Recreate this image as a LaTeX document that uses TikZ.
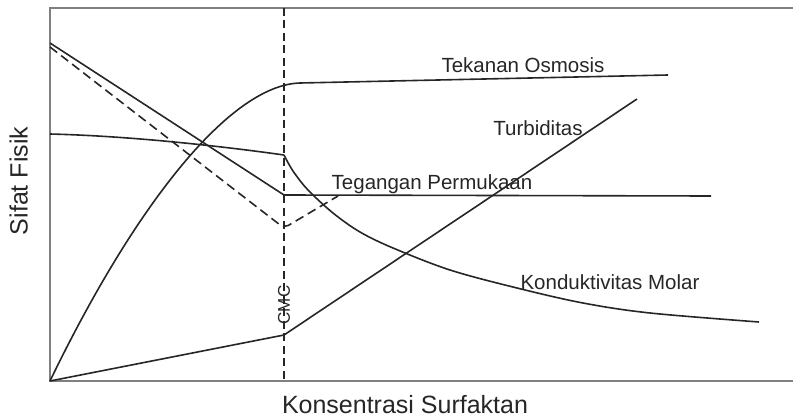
\documentclass[tikz,border=0pt]{standalone}
\usepackage{fontspec}
\setmainfont{Liberation Sans}
\begin{document}
\begin{tikzpicture}[x=1pt,y=-1pt,
  axisline/.style={draw=black!50,line width=1.2pt},
  curve/.style={draw=black!85,line width=1.6pt,line join=round},
  dashcurve/.style={curve,dash pattern=on 9pt off 5pt},
  cmcline/.style={draw=black!85,line width=1.5pt,dash pattern=on 8pt off 4.5pt},
  lbl/.style={text=black!85,font=\fontsize{20.5}{22}\selectfont,inner sep=0pt},
  axlbl/.style={text=black!85,font=\fontsize{25}{28}\selectfont,inner sep=0pt}]
\useasboundingbox (0,0) rectangle (793,417);
% axes
\coordinate (tl) at (50,8);
\coordinate (tr) at (793,8);
\coordinate (bl) at (50,381);
\coordinate (br) at (793,381);
\draw[axisline] (tr) -- (tl) -- (bl) -- (br);
% CMC line
\coordinate (cmctop) at (284,8);
\coordinate (cmcbot) at (284,381);
\draw[cmcline] (cmctop) -- (cmcbot);
\node[text=black!85,font=\fontsize{17}{19}\selectfont,inner sep=0pt,rotate=90] (cmc) at (284,305) {CMC};
% Tekanan Osmosis
\coordinate (o0) at (50,381);
\coordinate (o1) at (300,83);
\coordinate (o2) at (668,75);
\draw[curve] (o0) .. controls (135,205) and (230,85) .. (o1) -- (o2);
\node[lbl] (osm) at (523,65) {Tekanan Osmosis};
% Tegangan Permukaan
\coordinate (t0) at (50,43);
\coordinate (t1) at (284,195);
\coordinate (t2) at (711,196);
\draw[curve] (t0) -- (t1) -- (t2);
\node[lbl] (teg) at (432,184) {Tegangan Permukaan};
% dashed
\coordinate (d0) at (50,47);
\coordinate (d1) at (284,228);
\coordinate (d2) at (338,196);
\draw[dashcurve,rounded corners=5pt] (d0) -- (d1) -- (d2);
% Turbiditas
\coordinate (u0) at (50,381);
\coordinate (u1) at (284,335);
\coordinate (u2) at (637,99);
\draw[curve] (u0) -- (u1) -- (u2);
\node[lbl] (turb) at (538,128) {Turbiditas};
% Konduktivitas Molar
\coordinate (k0) at (50,134);
\coordinate (k1) at (284,155);
\draw[curve] (k0) .. controls (130,136) and (220,146) .. (k1);
\draw[curve] plot[smooth,tension=0.55] coordinates {(284,155) (293,171) (308,190) (333,213) (360,232) (393,248) (450,270) (517,288) (583,303) (650,313) (759,322)};
\node[lbl] (kond) at (610,282) {Konduktivitas Molar};
% axis labels
\node[axlbl,anchor=base,rotate=90] (ylab) at (27.5,181) {Sifat Fisik};
\node[axlbl,anchor=base] (xlab) at (405,413) {Konsentrasi Surfaktan};
\end{tikzpicture}
\end{document}
